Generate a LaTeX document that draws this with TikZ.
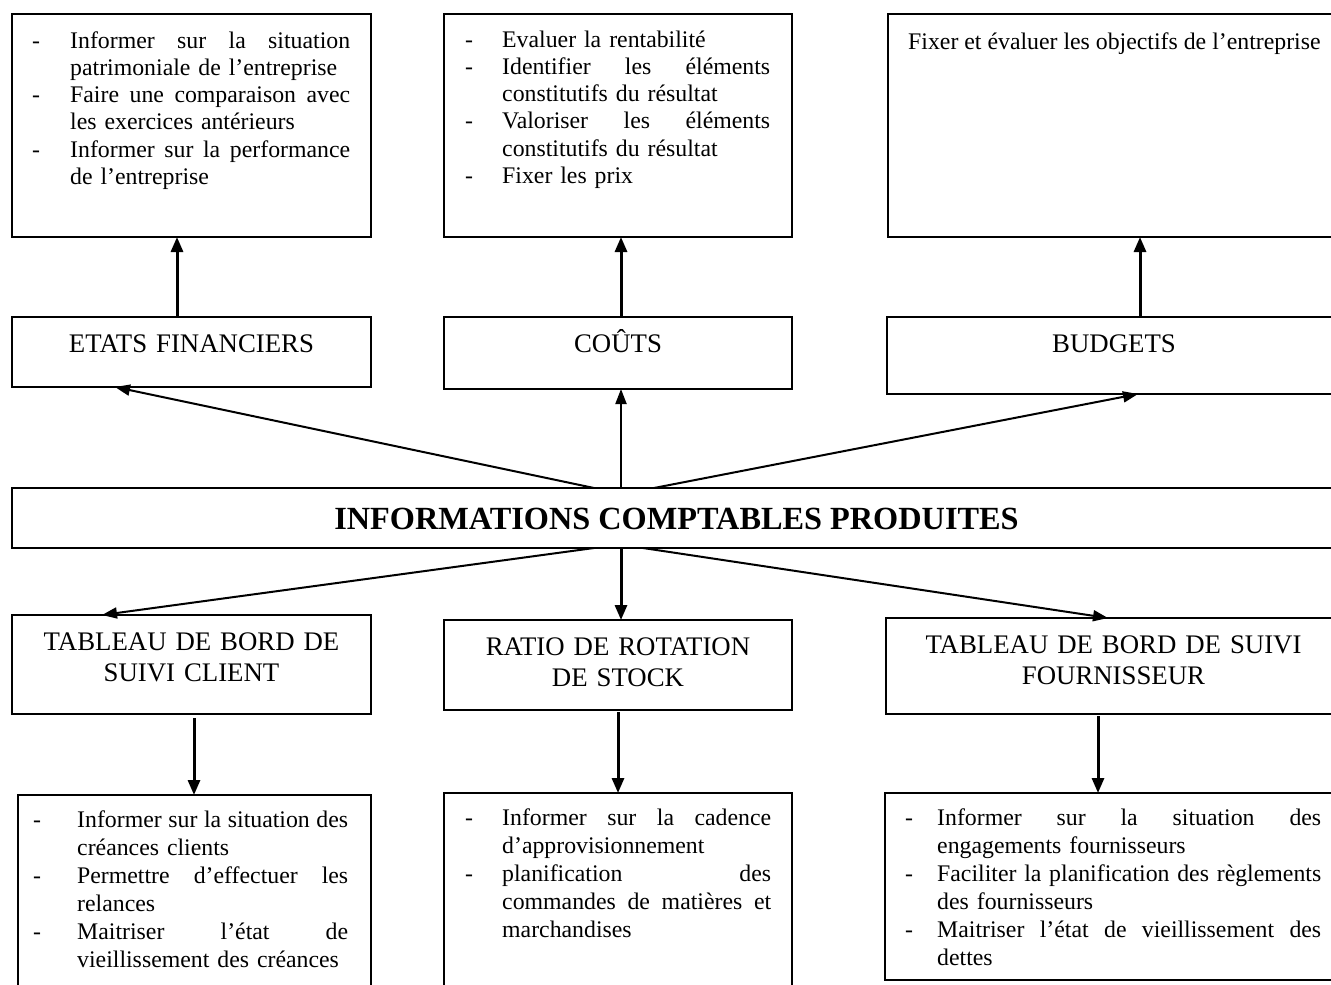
\documentclass[tikz,border=0pt]{standalone}
\usepackage{fontspec}
\setmainfont{Liberation Serif}
\usetikzlibrary{arrows.meta}
\setlength\parskip{0pt}
\newlength\hw \newlength\tw
\newcommand\JL[2]{\noindent\makebox[\hw][l]{#1}\hbox to\tw{\spaceskip=\fontdimen2\font plus 1fil\relax #2}\par}
\newcommand\RL[2]{\noindent\makebox[\hw][l]{#1}#2\par}
\tikzset{
  box/.style={draw, line width=1.6pt, anchor=north west, inner sep=0pt, outer sep=0pt},
  arr/.style={line width=2pt, -{Triangle[length=15pt,width=11pt]}},
  thk/.style={line width=3pt, -{Triangle[length=15pt,width=12pt]}},
  bodytop/.style={anchor=base west, inner sep=0pt, font=\fontsize{23.8}{27.3}\selectfont},
  bodybot/.style={anchor=base west, inner sep=0pt, font=\fontsize{23.8}{28}\selectfont},
  lab/.style={anchor=base, inner sep=0pt, text width=340pt, align=center, font=\fontsize{26.8}{31}\selectfont},
}
\begin{document}
\begin{tikzpicture}[x=1pt,y=-1pt]
\useasboundingbox (0,0) rectangle (1331,985);
\fill[white] (0,0) rectangle (1331,985);
\clip (0,0) rectangle (1331,985);

% top boxes
\node[box, minimum width=359pt, minimum height=223pt] (tA) at (12,14) {};
\node[box, minimum width=348pt, minimum height=223pt] (tB) at (444,14) {};
\node[box, minimum width=453pt, minimum height=223pt] (tC) at (888,14) {};
% second row
\node[box, minimum width=359pt, minimum height=70pt] (ef) at (12,317) {};
\node[box, minimum width=348pt, minimum height=72pt] (co) at (444,317) {};
\node[box, minimum width=454pt, minimum height=77pt] (bu) at (887,317) {};
% central
\node[box, minimum width=1329pt, minimum height=60pt] (ic) at (12,488) {};
% third row
\node[box, minimum width=359pt, minimum height=99pt] (cl) at (12,615) {};
\node[box, minimum width=348pt, minimum height=90pt] (ra) at (444,620) {};
\node[box, minimum width=455pt, minimum height=96pt] (fo) at (886,618) {};
% bottom boxes
\node[box, minimum width=353pt, minimum height=220pt] (bA) at (18,795) {};
\node[box, minimum width=348pt, minimum height=220pt] (bB) at (444,793) {};
\node[box, minimum width=456pt, minimum height=187pt] (bC) at (885,793) {};

% texts top
\node[bodytop, text width=318pt] (tAt) at (32,48) {%
\setlength\hw{38pt}\setlength\tw{280pt}%
\JL{-}{Informer sur la situation}
\RL{}{patrimoniale de l’entreprise}
\JL{-}{Faire une comparaison avec}
\RL{}{les exercices antérieurs}
\JL{-}{Informer sur la performance}
\RL{}{de l’entreprise}};
\node[bodytop, text width=305pt] (tBt) at (465,47) {%
\setlength\hw{37pt}\setlength\tw{268pt}%
\RL{-}{Evaluer la rentabilité}
\JL{-}{Identifier les éléments}
\RL{}{constitutifs du résultat}
\JL{-}{Valoriser les éléments}
\RL{}{constitutifs du résultat}
\RL{-}{Fixer les prix}};
\node[bodytop] (tCt) at (908,49) {Fixer et évaluer les objectifs de l’entreprise};

% labels
\node[lab] (eft) at ([yshift=-35pt]ef.north) {ETATS FINANCIERS};
\node[lab] (cot) at ([yshift=-35pt]co.north) {COÛTS};
\node[lab] (but) at ([yshift=-35pt]bu.north) {BUDGETS};
\node[anchor=base, inner sep=0pt, font=\fontsize{32.3}{36}\selectfont\bfseries] (ict) at ([yshift=-41pt]ic.north) {INFORMATIONS COMPTABLES PRODUITES};
\node[lab] (clt) at ([yshift=-35pt]cl.north) {TABLEAU DE BORD DE\\SUIVI CLIENT};
\node[lab] (rat) at ([yshift=-35pt]ra.north) {RATIO DE ROTATION\\DE STOCK};
\node[lab, text width=420pt] (fot) at ([yshift=-35pt]fo.north) {TABLEAU DE BORD DE SUIVI\\FOURNISSEUR};

% bottom texts
\node[bodybot, text width=315pt] (bAt) at (33,827) {%
\setlength\hw{44pt}\setlength\tw{271pt}%
\JL{-}{Informer sur la situation des}
\RL{}{créances clients}
\JL{-}{Permettre d’effectuer les}
\RL{}{relances}
\JL{-}{Maitriser l’état de}
\RL{}{vieillissement des créances}};
\node[bodybot, text width=306pt] (bBt) at (465,825) {%
\setlength\hw{37pt}\setlength\tw{269pt}%
\JL{-}{Informer sur la cadence}
\RL{}{d’approvisionnement}
\JL{-}{planification des}
\JL{}{commandes de matières et}
\RL{}{marchandises}};
\node[bodybot, text width=416pt] (bCt) at (905,825) {%
\setlength\hw{32pt}\setlength\tw{384pt}%
\JL{-}{Informer sur la situation des}
\RL{}{engagements fournisseurs}
\JL{-}{Faciliter la planification des règlements}
\RL{}{des fournisseurs}
\JL{-}{Maitriser l’état de vieillissement des}
\RL{}{dettes}};

% arrows up to top boxes
\draw[thk] ([xshift=-14.5pt]ef.north) -- ([xshift=-14.5pt]tA.south);
\draw[thk] ([xshift=3pt]co.north) -- ([xshift=3pt]tB.south);
\draw[thk] ([xshift=26pt]bu.north) -- ([xshift=25.5pt]tC.south);
% arrows from central box up
\draw[arr] ([xshift=-82.5pt]ic.north) -- ([xshift=103pt]ef.south west);
\draw[arr] ([xshift=-55.5pt]ic.north) -- ([xshift=3pt]co.south);
\draw[arr] ([xshift=-22.5pt]ic.north) -- ([xshift=24pt]bu.south);
% arrows from central box down
\draw[arr] ([xshift=-82.5pt]ic.south) -- ([xshift=90pt]cl.north west);
\draw[thk] ([xshift=-55.5pt]ic.south) -- ([xshift=3pt]ra.north);
\draw[arr] ([xshift=-33.5pt]ic.south) -- ([xshift=222pt]fo.north west);
% arrows down to bottom boxes
\draw[thk] ([xshift=182pt,yshift=-4pt]cl.south west) -- ([xshift=176pt]bA.north west);
\draw[thk] ([xshift=174pt,yshift=-2pt]ra.south west) -- ([xshift=174pt]bB.north west);
\draw[thk] ([xshift=212pt,yshift=-2pt]fo.south west) -- ([xshift=213pt]bC.north west);
\end{tikzpicture}
\end{document}
